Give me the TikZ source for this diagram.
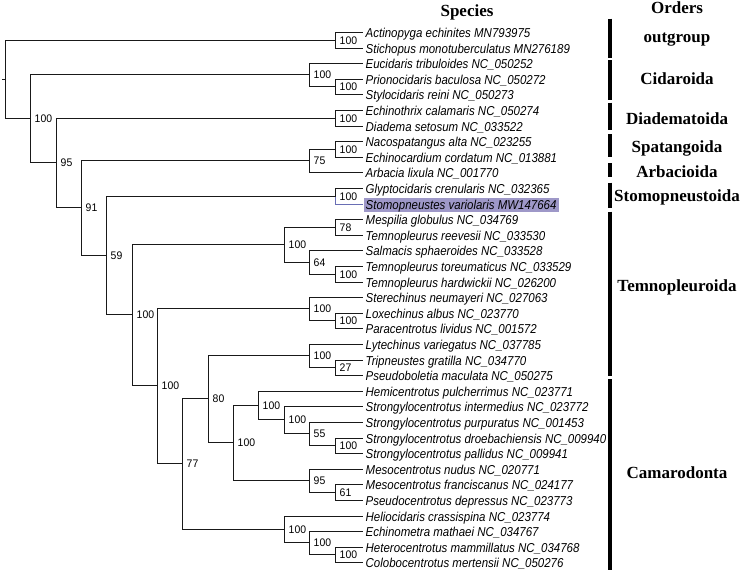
\documentclass[tikz,border=0pt]{standalone}
\usepackage{fontspec}
\setmainfont{Liberation Serif}
\newfontfamily\leaffont[FakeStretch=0.89]{Liberation Sans}
\newfontfamily\supfam[FakeStretch=0.95]{Liberation Sans}
\definecolor{hl}{RGB}{158,152,200}
\definecolor{hlline}{RGB}{105,110,180}
\begin{document}
\begin{tikzpicture}[x=1pt,y=-1pt,
  edge/.style={line width=1.7pt, draw=black!90},
  sup/.style={anchor=west, inner sep=0pt, xshift=4pt, font=\supfam\fontsize{11}{12}\selectfont},
  leaf/.style={anchor=base west, inner sep=0pt, font=\leaffont\itshape\fontsize{12.9}{14}\selectfont},
  order/.style={anchor=base, inner sep=0pt, font=\bfseries\fontsize{17}{20}\selectfont},
  orderbar/.style={line width=4pt, draw=black}
]
\useasboundingbox (0,0) rectangle (745,573);
% leaf tips
\foreach \i in {0,...,34} \coordinate (t\i) at (362.5,{round(32+15.6*\i)+0.5});
% internal nodes
\coordinate (og)    at (335.5,40.5);
\coordinate (cidI)  at (335.5,86.5);
\coordinate (cid)   at (309.5,74.5);
\coordinate (dia)   at (335.5,118.5);
\coordinate (spa)   at (335.5,149.5);
\coordinate (sparb) at (309.5,160.5);
\coordinate (sto)   at (335.5,196.5);
\coordinate (tA)    at (335.5,227.5);
\coordinate (tB)    at (335.5,274.5);
\coordinate (tC)    at (309.5,262.5);
\coordinate (tem)   at (284.5,244.5);
\coordinate (pB)    at (335.5,320.5);
\coordinate (pA)    at (309.5,308.5);
\coordinate (lB)    at (335.5,367.5);
\coordinate (lA)    at (309.5,355.5);
\coordinate (sD)    at (335.5,445.5);
\coordinate (sC)    at (309.5,433.5);
\coordinate (sB)    at (284.5,419.5);
\coordinate (sA)    at (258.5,405.5);
\coordinate (mB)    at (335.5,492.5);
\coordinate (mA)    at (309.5,480.5);
\coordinate (nI)    at (233.5,442.5);
\coordinate (nH)    at (208.5,398.5);
\coordinate (eC)    at (335.5,554.5);
\coordinate (eB)    at (309.5,542.5);
\coordinate (eA)    at (284.5,529.5);
\coordinate (nG)    at (182.5,463.5);
\coordinate (nF)    at (157.5,385.5);
\coordinate (nE)    at (132.5,314.5);
\coordinate (nD)    at (106.5,255.5);
\coordinate (nC)    at (81.5,207.5);
\coordinate (nB)    at (56.5,162.5);
\coordinate (nA)    at (30.5,118.5);
\coordinate (root)  at (5.5,79.5);
\coordinate (stub)  at (2,79.5);
% highlight label (drawn first)
\node[leaf, fill=hl, text height=11pt, text depth=2pt, inner xsep=2pt, inner ysep=0.5pt]
  (l11) at ([xshift=1pt,yshift=-4.7pt]t11) {Stomopneustes variolaris MW147664};
% edges
\draw[edge] (stub) -- (root);
\foreach \p/\c in {root/og, root/nA, og/t0, og/t1, nA/cid, nA/nB, cid/t2, cid/cidI,
  cidI/t3, cidI/t4, nB/dia, nB/nC, dia/t5, dia/t6, nC/sparb, nC/nD, sparb/spa, sparb/t9,
  spa/t7, spa/t8, nD/sto, nD/nE, sto/t10, nE/tem, nE/nF, tem/tA, tem/tC, tA/t12, tA/t13,
  tC/t14, tC/tB, tB/t15, tB/t16, nF/pA, nF/nG, pA/t17, pA/pB, pB/t18, pB/t19, nG/nH,
  nG/eA, nH/lA, nH/nI, lA/t20, lA/lB, lB/t21, lB/t22, nI/sA, nI/mA, sA/t23, sA/sB,
  sB/t24, sB/sC, sC/t25, sC/sD, sD/t26, sD/t27, mA/t28, mA/mB, mB/t29, mB/t30,
  eA/t31, eA/eB, eB/t32, eB/eC, eC/t33, eC/t34}
  \draw[edge] (\p) |- (\c);
\draw[edge, draw=hlline] (sto) |- (t11);
% support values
\foreach \n/\v in {og/100, cidI/100, cid/100, dia/100, spa/100, sparb/75, sto/100,
  tA/78, tB/100, tC/64, tem/100, pB/100, pA/100, lB/27, lA/100, sD/100, sC/55,
  sB/100, sA/100, mB/61, mA/95, nI/100, nH/80, eC/100, eB/100, eA/100, nG/77,
  nF/100, nE/100, nD/59, nC/91, nB/95, nA/100}
  \node[sup] (s-\n) at (\n) {\v};
% leaf labels
\foreach \i/\t in {
  0/{Actinopyga echinites MN793975},
  1/{Stichopus monotuberculatus MN276189},
  2/{Eucidaris tribuloides NC\_050252},
  3/{Prionocidaris baculosa NC\_050272},
  4/{Stylocidaris reini NC\_050273},
  5/{Echinothrix calamaris NC\_050274},
  6/{Diadema setosum NC\_033522},
  7/{Nacospatangus alta NC\_023255},
  8/{Echinocardium cordatum NC\_013881},
  9/{Arbacia lixula NC\_001770},
  10/{Glyptocidaris crenularis NC\_032365},
  12/{Mespilia globulus NC\_034769},
  13/{Temnopleurus reevesii NC\_033530},
  14/{Salmacis sphaeroides NC\_033528},
  15/{Temnopleurus toreumaticus NC\_033529},
  16/{Temnopleurus hardwickii NC\_026200},
  17/{Sterechinus neumayeri NC\_027063},
  18/{Loxechinus albus NC\_023770},
  19/{Paracentrotus lividus NC\_001572},
  20/{Lytechinus variegatus NC\_037785},
  21/{Tripneustes gratilla NC\_034770},
  22/{Pseudoboletia maculata NC\_050275},
  23/{Hemicentrotus pulcherrimus NC\_023771},
  24/{Strongylocentrotus intermedius NC\_023772},
  25/{Strongylocentrotus purpuratus NC\_001453},
  26/{Strongylocentrotus droebachiensis NC\_009940},
  27/{Strongylocentrotus pallidus NC\_009941},
  28/{Mesocentrotus nudus NC\_020771},
  29/{Mesocentrotus franciscanus NC\_024177},
  30/{Pseudocentrotus depressus NC\_023773},
  31/{Heliocidaris crassispina NC\_023774},
  32/{Echinometra mathaei NC\_034767},
  33/{Heterocentrotus mammillatus NC\_034768},
  34/{Colobocentrotus mertensii NC\_050276}}
  \node[leaf] (l\i) at ([xshift=3pt,yshift=-4.7pt]t\i) {\t};
% headers
\node[order] (species) at (467,16.5) {Species};
\node[order] (orders) at (677,13) {Orders};
% order bars
\draw[orderbar] (609.5,18.5) -- (609.5,57.5);
\draw[orderbar] (609.5,60) -- (609.5,100);
\draw[orderbar] (609.5,102.5) -- (609.5,130);
\draw[orderbar] (609.5,134) -- (609.5,157);
\draw[orderbar] (609.5,163) -- (609.5,177);
\draw[orderbar] (609.5,182.5) -- (609.5,208);
\draw[orderbar] (609.5,211.5) -- (609.5,375.5);
\draw[orderbar] (609.5,379) -- (609.5,570);
% order names
\node[order] (o1) at (677,42) {outgroup};
\node[order] (o2) at (677,84) {Cidaroida};
\node[order] (o3) at (677,124) {Diadematoida};
\node[order] (o4) at (677,152) {Spatangoida};
\node[order] (o5) at (677,177) {Arbacioida};
\node[order] (o6) at (677,201) {Stomopneustoida};
\node[order] (o7) at (677,291.5) {Temnopleuroida};
\node[order] (o8) at (677,478) {Camarodonta};
\end{tikzpicture}
\end{document}
